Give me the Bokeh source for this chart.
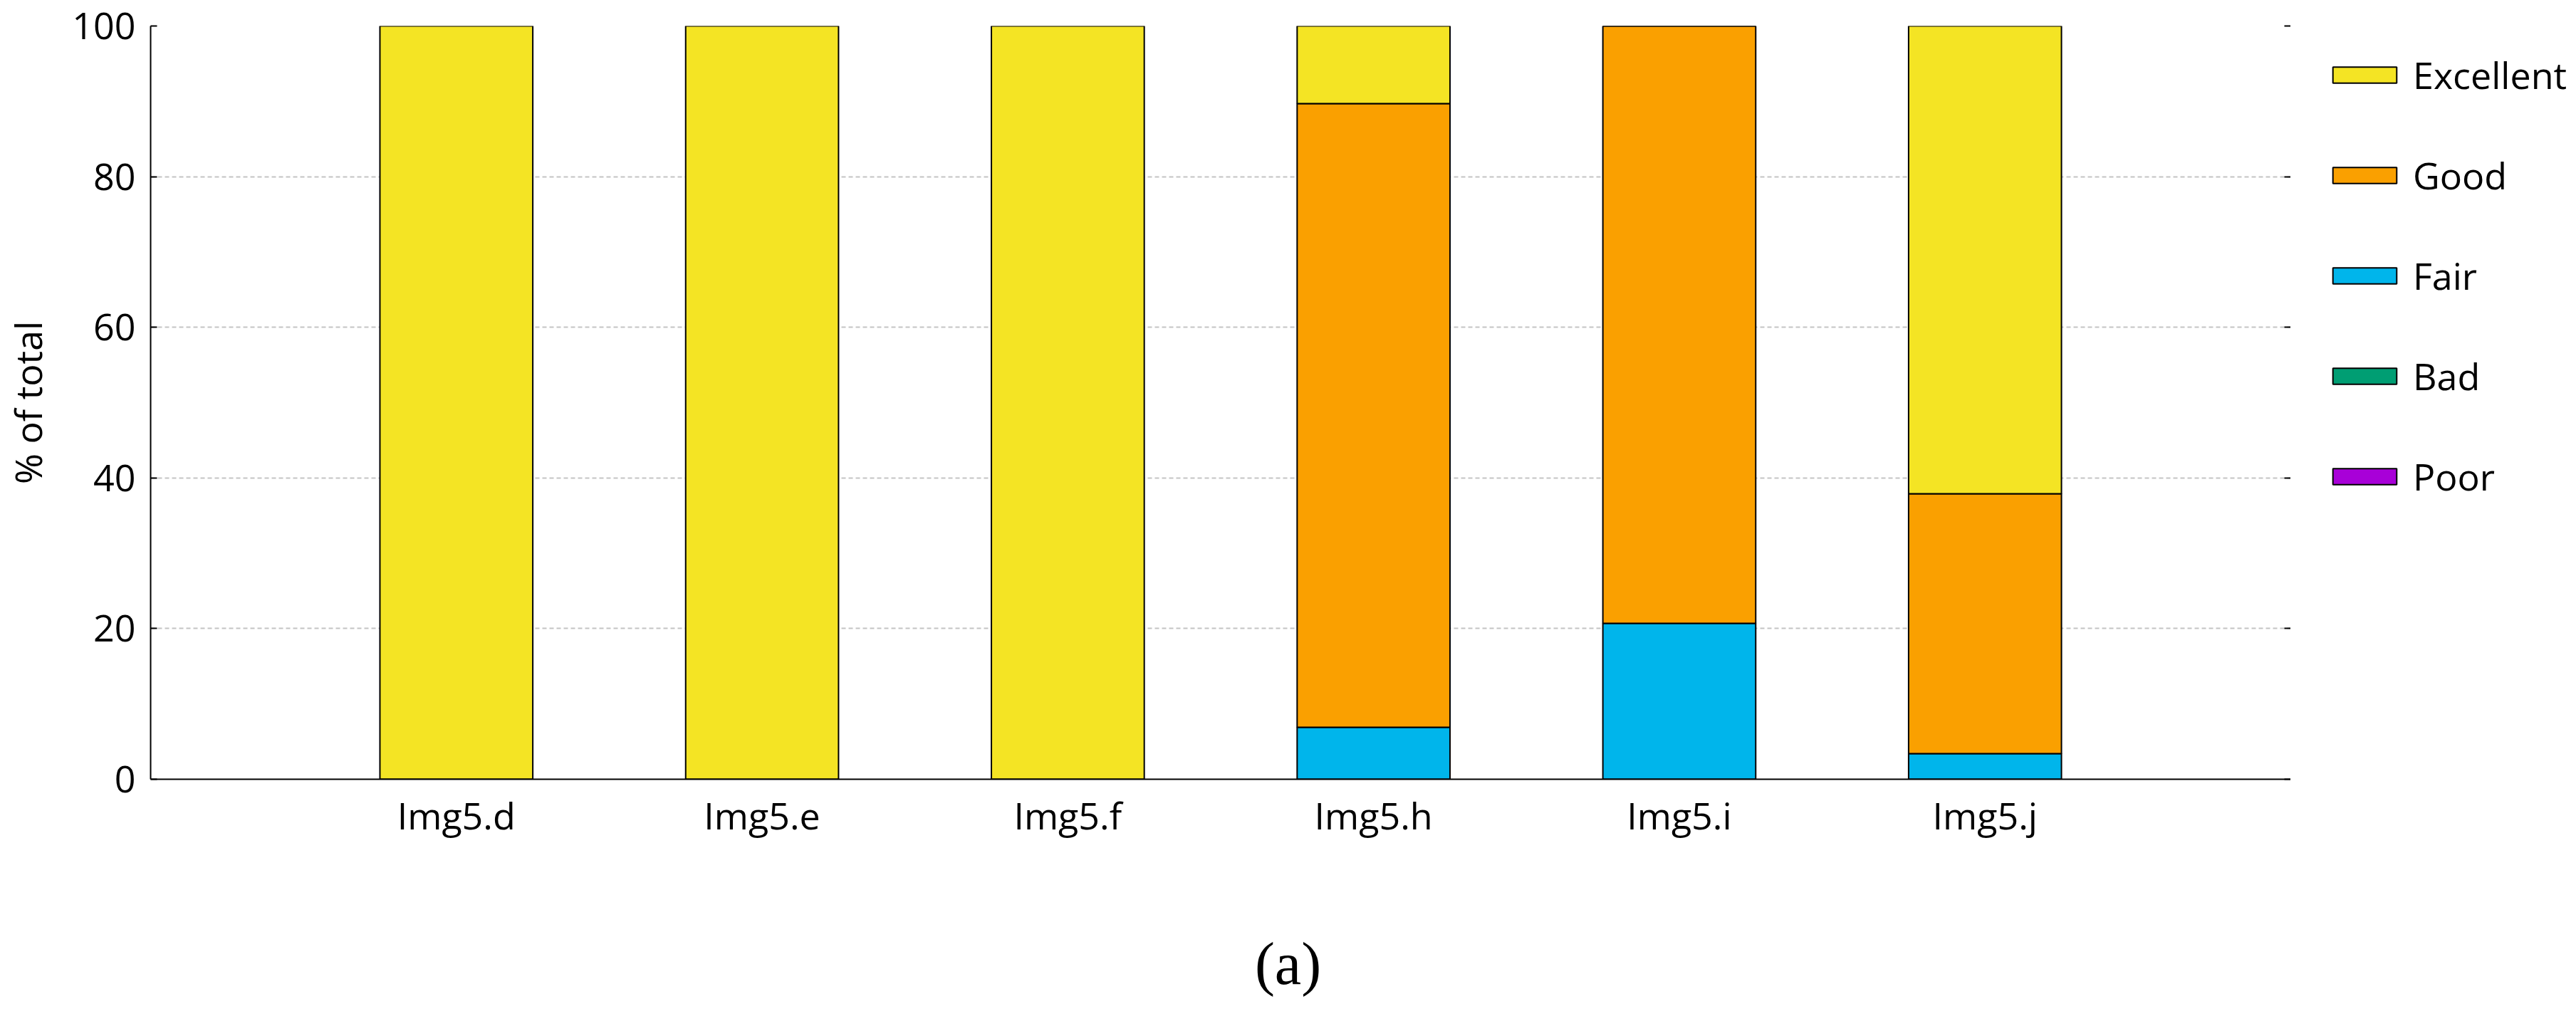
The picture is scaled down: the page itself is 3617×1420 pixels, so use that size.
from bokeh.plotting import figure
from bokeh.layouts import row, column
from bokeh.models import (FactorRange, Range1d, LinearAxis, Legend, LegendItem,
                          Div, FixedTicker, CustomJSTickFormatter)
from bokeh.embed import file_html
from bokeh.resources import INLINE

# ---- data ----
categories = ["Img5.d", "Img5.e", "Img5.f", "Img5.h", "Img5.i", "Img5.j"]
poor = [0, 0, 0, 0, 0, 0]
bad = [0, 0, 0, 0, 0, 0]
fair = [0, 0, 0, 6.9, 20.7, 3.4]
good = [0, 0, 0, 82.8, 79.3, 34.5]
excellent = [100, 100, 100, 10.3, 0, 62.1]
series = ["Poor", "Bad", "Fair", "Good", "Excellent"]
colors = ["#A800D8", "#009E73", "#00B5EB", "#FAA000", "#F4E424"]
y_ticks = [0, 20, 40, 60, 80, 100]
caption = "(a)"

FONT = "Open Sans"
FS = "52px"

source = dict(cat=categories, Poor=poor, Bad=bad, Fair=fair, Good=good, Excellent=excellent)

p = figure(width=3216, height=1300, output_backend="svg", toolbar_location=None,
           x_range=FactorRange(factors=categories, range_padding=0.5,
                               range_padding_units="absolute"),
           y_range=Range1d(0, 100),
           min_border_left=210, min_border_right=0, min_border_top=36,
           min_border_bottom=206)
p.outline_line_color = None
p.background_fill_color = "white"
p.border_fill_color = "white"

renderers = p.vbar_stack(series, x="cat", width=0.5, source=source,
                         fill_color=colors, line_color="black", line_width=2)

# axes
p.yaxis.ticker = FixedTicker(ticks=y_ticks)
p.yaxis.axis_label = "% of total"
p.yaxis.axis_label_text_font = FONT
p.yaxis.axis_label_text_font_size = FS
p.yaxis.axis_label_text_font_style = "normal"
p.yaxis.axis_label_text_color = "black"
p.yaxis.axis_label_standoff = 24
p.yaxis.major_label_text_font = FONT
p.yaxis.major_label_text_font_size = FS
p.yaxis.major_label_text_color = "black"
p.yaxis.major_label_standoff = 21
p.yaxis.major_tick_in = 9
p.yaxis.major_tick_out = 0
p.yaxis.minor_tick_in = 0
p.yaxis.minor_tick_out = 0
p.yaxis.axis_line_width = 2
p.yaxis.major_tick_line_width = 2

p.xaxis.major_label_text_font = FONT
p.xaxis.major_label_text_font_size = FS
p.xaxis.major_label_text_color = "black"
p.xaxis.major_label_standoff = 14
p.xaxis.major_tick_in = 0
p.xaxis.major_tick_out = 0
p.xaxis.axis_line_width = 2

# right-side ticks only (no labels)
ra = LinearAxis(ticker=FixedTicker(ticks=y_ticks),
                formatter=CustomJSTickFormatter(code="return ''"))
ra.axis_line_color = None
ra.major_tick_in = 9
ra.major_tick_out = 0
ra.minor_tick_in = 0
ra.minor_tick_out = 0
ra.major_tick_line_width = 2
ra.major_label_standoff = 0
p.add_layout(ra, "right")

# grid
p.xgrid.grid_line_color = None
p.ygrid.ticker = FixedTicker(ticks=y_ticks)
p.ygrid.grid_line_color = "#C4C4C4"
p.ygrid.grid_line_width = 2
p.ygrid.grid_line_dash = "6 4"

# ---- legend panel (separate figure to the right) ----
lg = figure(width=401, height=1300, output_backend="svg", toolbar_location=None,
            x_axis_type=None, y_axis_type=None,
            x_range=Range1d(0, 1), y_range=Range1d(0, 1),
            min_border_left=0, min_border_right=0, min_border_top=36,
            min_border_bottom=206)
lg.outline_line_color = None
lg.xgrid.grid_line_color = None
lg.ygrid.grid_line_color = None
lg_source = dict(idx=list(range(len(categories))), Poor=poor, Bad=bad, Fair=fair,
                 Good=good, Excellent=excellent)
swatches = lg.vbar_stack(series, x="idx", width=0.5, source=lg_source,
                         fill_color=colors, line_color="black", line_width=2)
for r in swatches:
    r.visible = False
items = [LegendItem(label=s, renderers=[r]) for s, r in zip(series, swatches)][::-1]
legend = Legend(items=items, location=(48, 390), orientation="vertical",
                glyph_width=112, glyph_height=28, label_height=28,
                label_standoff=12, spacing=70, padding=0, margin=0,
                border_line_color=None, background_fill_alpha=0,
                inactive_fill_alpha=0,
                label_text_font=FONT, label_text_font_size=FS,
                label_text_color="black")
lg.add_layout(legend, "center")

# caption, centred on the page
cap = Div(text=caption, width=3617, height=120, margin=0,
          styles={"text-align": "center", "font-family": "Liberation Serif",
                  "font-size": "84px", "line-height": "108px", "color": "black"})

layout = column(row(p, lg, spacing=0), cap, spacing=0)
open("out.html", "w").write(file_html(layout, INLINE))
